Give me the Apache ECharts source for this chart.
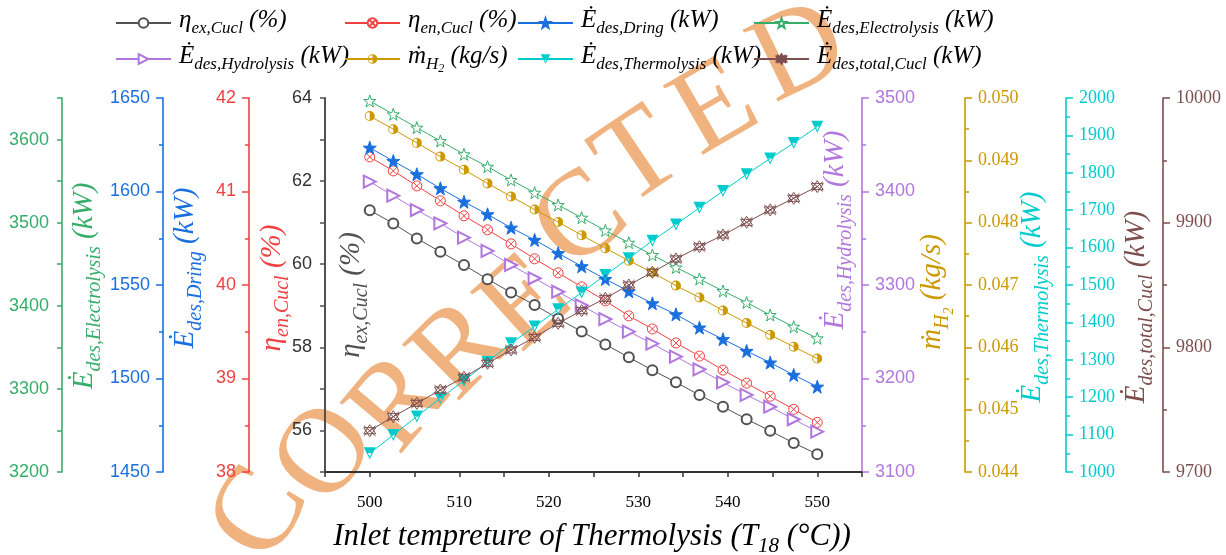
<!DOCTYPE html>
<html><head><meta charset="utf-8">
<script src="https://cdn.jsdelivr.net/npm/echarts@6/dist/echarts.min.js"></script>
<style>html,body{margin:0;padding:0;background:#fff}#c{width:1226px;height:555px}</style>
</head><body><div id="c"></div>
<script>
// ---------------- data ----------------
const temps = [500, 502.63, 505.26, 507.89, 510.53, 513.16, 515.79, 518.42, 521.05, 523.68,
               526.32, 528.95, 531.58, 534.21, 536.84, 539.47, 542.11, 544.74, 547.37, 550];
const etaEx = [61.30, 60.98, 60.62, 60.30, 59.98, 59.64, 59.32, 59.02, 58.69, 58.38,
               58.07, 57.76, 57.45, 57.16, 56.85, 56.57, 56.27, 55.99, 55.70, 55.43];
const etaEn = [41.37, 41.22, 41.06, 40.90, 40.74, 40.59, 40.44, 40.28, 40.13, 39.98,
               39.83, 39.67, 39.53, 39.38, 39.24, 39.09, 38.95, 38.81, 38.67, 38.53];
const exDring = [1623.4, 1616.3, 1609.2, 1601.7, 1594.5, 1587.8, 1580.6, 1574.1, 1567.0, 1560.0,
                 1553.2, 1546.6, 1540.2, 1534.3, 1527.2, 1521.0, 1514.7, 1508.5, 1501.9, 1495.6];
const exElec = [3646.4, 3630.4, 3614.3, 3598.3, 3582.3, 3567.3, 3551.3, 3536.1, 3521.3, 3506.0,
                3490.6, 3475.9, 3461.1, 3446.1, 3432.2, 3417.8, 3403.9, 3388.9, 3374.8, 3360.9];
const exHydro = [3410.5, 3395.5, 3380.2, 3366.0, 3350.6, 3336.4, 3321.4, 3307.2, 3292.8, 3278.3,
                 3263.6, 3250.1, 3237.2, 3223.3, 3209.8, 3195.9, 3182.4, 3169.8, 3156.4, 3143.1];
const mH2 = [0.04971, 0.04950, 0.04928, 0.04906, 0.04885, 0.04863, 0.04842, 0.04821, 0.04801, 0.04780,
             0.04759, 0.04739, 0.04720, 0.04699, 0.04680, 0.04659, 0.04639, 0.04620, 0.04601, 0.04582];
const exThermo = [1050.0, 1098.9, 1148.4, 1197.1, 1244.1, 1294.1, 1344.1, 1389.0, 1435.0, 1479.9,
                  1526.7, 1571.4, 1618.4, 1661.8, 1706.7, 1751.3, 1796.0, 1838.2, 1879.7, 1923.3];
const exTotal = [9733.1, 9744.4, 9755.1, 9765.8, 9776.0, 9787.2, 9797.9, 9808.0, 9819.3, 9829.4,
                 9839.3, 9850.0, 9860.2, 9870.9, 9880.7, 9890.1, 9900.3, 9910.2, 9919.5, 9928.9];

// axis ranges / tick labels
const xRange = [495, 555];          const xLabelStep = 10;
const exRange = [55, 64];           const exLabelStep = 2;
const enRange = [38, 42];           const enStep = 1;
const dringRange = [1450, 1650];    const dringStep = 50;
const elecRange = [3200, 3650];     const elecLabelStep = 100;
const hydroRange = [3100, 3500];    const hydroStep = 100;
const mRange = [0.044, 0.050];      const mStep = 0.001;
const thermoRange = [1000, 2000];   const thermoStep = 100;
const totalRange = [9700, 10000];   const totalStep = 100;

// ---------------- styles ----------------
const C = {ex:'#515151', en:'#F14040', dring:'#1A6FDF', elec:'#37AD6B', hydro:'#B177DE',
           mh2:'#CC9900', thermo:'#00CBCC', total:'#7D4E4E'};
const SERIF = 'Liberation Serif, Times New Roman, serif';
const SANS = 'Liberation Sans, Arial, sans-serif';

const P_STAR = 'path://M0,-10 L2.35,-3.24 L9.51,-3.09 L3.8,1.24 L5.88,8.09 L0,4 L-5.88,8.09 L-3.8,1.24 L-9.51,-3.09 L-2.35,-3.24 Z';
const P_OX = 'path://M-5,0 A5,5 0 1 0 5,0 A5,5 0 1 0 -5,0 Z M-3.5,-3.5 L3.5,3.5 M-3.5,3.5 L3.5,-3.5';
const P_HALF = 'path://M0,-5 A5,5 0 0 1 0,5 Z M0,-5 A5,5 0 0 0 0,5 L0,4.1 A4.1,4.1 0 0 1 0,-4.1 Z';
const P_DTRI = 'path://M-6,-5 L6,-5 L0,6 Z M-1.9,0.3 L0,4.0 L1.9,0.3 Z';
const P_TOT = 'path://M0,-6 L5.2,3 L-5.2,3 Z M0,6 L5.2,-3 L-5.2,-3 Z M-5,-5 L5,5 M-5,5 L5,-5';

const specs = [
  {key:'ex', data:etaEx, y:0, symbol:'emptyCircle', size:10, fill:C.ex},
  {key:'en', data:etaEn, y:1, symbol:P_OX, size:10, fill:'#fff'},
  {key:'dring', data:exDring, y:2, symbol:P_STAR, size:13, fill:C.dring},
  {key:'elec', data:exElec, y:3, symbol:P_STAR, size:12, fill:'#fff'},
  {key:'hydro', data:exHydro, y:4, symbol:'emptyTriangle', size:12, fill:C.hydro, rot:-90},
  {key:'mh2', data:mH2, y:5, symbol:P_HALF, size:10, fill:C.mh2, noBorder:true},
  {key:'thermo', data:exThermo, y:6, symbol:P_DTRI, size:12, fill:C.thermo, noBorder:true},
  {key:'total', data:exTotal, y:7, symbol:P_TOT, size:12, fill:'none'}
];

const legendText = {
  ex:'{m|η}{s|ex,Cucl}{m| (%)}',
  en:'{m|η}{s|en,Cucl}{m| (%)}',
  dring:'{m|Ė}{s|des,Dring}{m| (kW)}',
  elec:'{m|Ė}{s|des,Electrolysis}{m| (kW)}',
  hydro:'{m|Ė}{s|des,Hydrolysis}{m| (kW)}',
  mh2:'{m|ṁ}{s|H}{ss|2}{m| (kg/s)}',
  thermo:'{m|Ė}{s|des,Thermolysis}{m| (kW)}',
  total:'{m|Ė}{s|des,total,Cucl}{m| (kW)}'
};
const legendCols = [115, 344, 517, 753];
const legendRows = [8, 44];

const series = specs.map(s => ({
  name: s.key, type:'line', xAxisIndex:0, yAxisIndex:s.y,
  data: temps.map((t, i) => [t, s.data[i]]),
  symbol: s.symbol, symbolSize: s.size, symbolRotate: s.rot || 0,
  showSymbol:true, showAllSymbol:true,
  lineStyle:{color:C[s.key], width:1},
  itemStyle: s.noBorder ? {color:s.fill, borderWidth:0} : {color:s.fill, borderColor:C[s.key], borderWidth:1},
  emphasis:{disabled:true}, silent:true, animation:false, z:3
}));

const legendRich = {
  m:{fontFamily:SERIF, fontStyle:'italic', fontSize:25, color:'#000', lineHeight:30, verticalAlign:'top'},
  s:{fontFamily:SERIF, fontStyle:'italic', fontSize:17, color:'#000', lineHeight:18, padding:[12,0,0,0], verticalAlign:'top'},
  ss:{fontFamily:SERIF, fontStyle:'italic', fontSize:12, color:'#000', lineHeight:12, padding:[19,0,0,0], verticalAlign:'top'}
};
const legends = specs.map((s, i) => ({
  data:[s.key], left: legendCols[i % 4], top: legendRows[Math.floor(i / 4)],
  padding:0, itemWidth:55, itemHeight:12, selectedMode:false,
  formatter: n => legendText[n],
  textStyle:{padding:[0,0,0,3], rich:legendRich}
}));

function yA(o) {
  return {
    type:'value', position:o.pos, offset:o.off, min:o.min, max:o.max, interval:o.int,
    axisLine:{show:true, onZero:false, lineStyle:{color:o.c, width:o.lw || 1.6}},
    axisTick:{show:true, length:o.tl || 7, lineStyle:{color:o.c, width:1.5}},
    minorTick:{show:!!o.minor, splitNumber:2, length:4, lineStyle:{color:o.c, width:1.5}},
    splitLine:{show:false}, minorSplitLine:{show:false},
    axisLabel:{show:true, color:o.lc || o.c, fontFamily:o.ff || SANS, fontSize:18, margin:13,
               formatter:o.fmt || (v => String(v)), hideOverlap:false}
  };
}

const near = (v, step) => Math.abs(v / step - Math.round(v / step)) < 1e-6;

const yAxes = [
  yA({pos:'left', off:0, min:exRange[0], max:exRange[1], int:1, c:C.ex, lc:'#333', lw:2, tl:5,
      fmt:v => near(v, exLabelStep) ? String(v) : ''}),
  yA({pos:'left', off:76, min:enRange[0], max:enRange[1], int:enStep, c:C.en, minor:true}),
  yA({pos:'left', off:162, min:dringRange[0], max:dringRange[1], int:dringStep, c:C.dring, minor:true}),
  yA({pos:'left', off:263, min:elecRange[0], max:elecRange[1], int:50, c:C.elec, tl:5,
      fmt:v => near(v, elecLabelStep) ? String(v) : ''}),
  yA({pos:'right', off:0, min:hydroRange[0], max:hydroRange[1], int:hydroStep, c:C.hydro, minor:true}),
  yA({pos:'right', off:103, min:mRange[0], max:mRange[1], int:mStep, c:C.mh2, minor:true, ff:SERIF,
      fmt:v => v.toFixed(3)}),
  yA({pos:'right', off:204, min:thermoRange[0], max:thermoRange[1], int:thermoStep, c:C.thermo, minor:true, ff:SERIF}),
  yA({pos:'right', off:301, min:totalRange[0], max:totalRange[1], int:totalStep, c:C.total, minor:true, ff:SERIF})
];

// rotated axis titles
const nameRich = (col) => ({
  m:{fontFamily:SERIF, fontStyle:'italic', fontSize:29, fill:col, lineHeight:36, verticalAlign:'top'},
  s:{fontFamily:SERIF, fontStyle:'italic', fontSize:20, fill:col, lineHeight:21, padding:[15,0,0,0], verticalAlign:'top'},
  ss:{fontFamily:SERIF, fontStyle:'italic', fontSize:14, fill:col, lineHeight:14, padding:[24,0,0,0], verticalAlign:'top'}
});
const axisNames = [
  {t:legendText.elec, c:C.elec, x:88, y:286},
  {t:legendText.dring, c:C.dring, x:189, y:268},
  {t:'{m|η}{s|en,Cucl}{m| (%)}', c:C.en, x:276, y:288},
  {t:legendText.ex, c:C.ex, x:355, y:295},
  {t:legendText.hydro, c:C.hydro, x:839, y:230},
  {t:legendText.mh2, c:C.mh2, x:936, y:292},
  {t:legendText.thermo, c:C.thermo, x:1036, y:297},
  {t:legendText.total, c:C.total, x:1140, y:307}
];
const graphics = axisNames.map(a => ({
  type:'text', x:a.x, y:a.y, rotation:Math.PI / 2, z:10, silent:true,
  style:{text:a.t, rich:nameRich(a.c), align:'center', verticalAlign:'middle'}
}));
graphics.push({
  type:'text', x:592, y:539, z:10, silent:true,
  style:{text:'{m|Inlet tempreture of Thermolysis (T}{s|18}{m| (°C))}', align:'center', verticalAlign:'middle',
    rich:{
      m:{fontFamily:SERIF, fontStyle:'italic', fontSize:31, fill:'#000', lineHeight:36, verticalAlign:'top'},
      s:{fontFamily:SERIF, fontStyle:'italic', fontSize:21, fill:'#000', lineHeight:22, padding:[15,0,0,0], verticalAlign:'top'}
    }}
});
// watermark
const wmLetters = ['C','O','R','R','E','C','T','E','D'];
const wmPos = [[262,515,60],[328,455,55],[400,405,50],[462,352,45],[527,305,42],[582,222,38],[640,160,34],[716,110,30],[800,55,26]];
wmLetters.forEach((ch, i) => {
  graphics.push({type:'text', x:wmPos[i][0], y:wmPos[i][1], rotation:wmPos[i][2] * Math.PI / 180, z:-1, silent:true,
    style:{text:ch, fontFamily:SERIF, fontSize:122, fill:'#F0B27F', align:'center', verticalAlign:'middle'}});
});

const option = {
  animation:false,
  backgroundColor:'#fff',
  grid:{left:325, right:364, top:98, bottom:83, containLabel:false},
  legend: legends,
  xAxis:{
    type:'value', min:xRange[0], max:xRange[1], interval:5,
    axisLine:{show:true, onZero:false, lineStyle:{color:'#333', width:2}},
    axisTick:{show:true, length:5, lineStyle:{color:'#333', width:1.5}},
    splitLine:{show:false},
    axisLabel:{color:'#000', fontFamily:SERIF, fontSize:17, margin:22,
               formatter:v => near(v, xLabelStep) ? String(v) : ''}
  },
  yAxis: yAxes,
  series: series,
  graphic:{elements:graphics}
};
const chart = echarts.init(document.getElementById('c'));
chart.setOption(option);
</script>
</body></html>
